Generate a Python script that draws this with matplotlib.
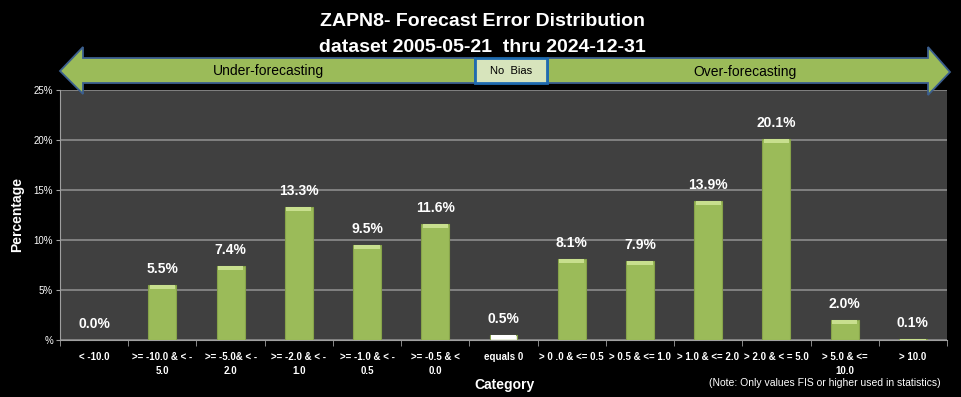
import matplotlib.pyplot as plt
from matplotlib.patches import Polygon, Rectangle
import numpy as np

plt.rcParams['font.family'] = ['Liberation Sans Narrow', 'Liberation Sans', 'DejaVu Sans']

categories = ['< -10.0', '>= -10.0 & < -\n5.0', '>= -5.0& < -\n2.0', '>= -2.0 & < -\n1.0',
              '>= -1.0 & < -\n0.5', '>= -0.5 & <\n0.0', 'equals 0', '> 0 .0 & <= 0.5',
              '> 0.5 & <= 1.0', '> 1.0 & <= 2.0', '> 2.0 & < = 5.0', '> 5.0 & <=\n10.0', '> 10.0']
values = [0.0, 5.5, 7.4, 13.3, 9.5, 11.6, 0.5, 8.1, 7.9, 13.9, 20.1, 2.0, 0.1]
bar_colors = ['#9bbb59'] * 6 + ['#eef2e4'] + ['#9bbb59'] * 6
top_colors = ['#c8df8e'] * 6 + ['#ffffff'] + ['#c8df8e'] * 6
ytick_vals = [0, 5, 10, 15, 20, 25]
ytick_labels = ['%', '5%', '10%', '15%', '20%', '25%']

W, H = 961, 397
fig = plt.figure(figsize=(9.61, 3.97), dpi=100, facecolor='black')
ax = fig.add_axes([60 / W, 57 / H, 887 / W, 250 / H])
ax.set_facecolor('#404040')

x = np.arange(len(values))
vals = np.array(values)
ax.bar(x, vals, width=0.41, color=bar_colors, edgecolor='#87a34a', linewidth=0.8, zorder=3)
# light bevel strip at the top of each bar
cap = np.minimum(vals, 0.35)
ax.bar(x, cap, bottom=vals - cap, width=0.37, color=top_colors, linewidth=0, zorder=3.5)
for xi, v in zip(x, values):
    ax.text(xi, v + 0.9, '%.1f%%' % v, ha='center', va='bottom', color='white',
            fontsize=10, fontweight='bold', zorder=4)

ax.set_xlim(-0.5, len(values) - 0.5)
ax.set_ylim(0, 25)
ax.set_yticks(ytick_vals)
ax.set_yticklabels(ytick_labels, color='white', fontsize=7)
ax.yaxis.grid(True, color='#8c8c8c', linewidth=1.2, zorder=0)
ax.set_xticks(x)
ax.set_xticklabels(categories, color='white', fontsize=7, fontweight='bold', linespacing=1.4)
ax.set_xticks(np.arange(len(values) + 1) - 0.5, minor=True)
ax.tick_params(axis='x', which='major', length=0, pad=9)
ax.tick_params(axis='x', which='minor', length=4, color='#a0a0a0')
ax.tick_params(axis='y', length=3, color='#a0a0a0', pad=2)
for s in ['top', 'right']:
    ax.spines[s].set_visible(False)
for s in ['left', 'bottom']:
    ax.spines[s].set_color('#a0a0a0')

ax.set_ylabel('Percentage', color='white', fontsize=10, fontweight='bold', labelpad=7)
fig.text(505 / W, 1 - 385 / H, 'Category', color='white', fontsize=10, fontweight='bold',
         ha='center', va='center')
fig.text(825 / W, 1 - 383 / H, '(Note: Only values FIS or higher used in statistics)',
         color='white', fontsize=7.5, ha='center', va='center')

fig.text(482 / W, 1 - 22 / H, 'ZAPN8- Forecast Error Distribution', color='white',
         fontsize=14, fontweight='bold', ha='center', va='center')
fig.text(482 / W, 1 - 47 / H, 'dataset 2005-05-21  thru 2024-12-31', color='white',
         fontsize=14, fontweight='bold', ha='center', va='center')


def fp(px, py):
    return (px / W, 1 - py / H)


left_arrow = [fp(60, 71), fp(83, 47), fp(83, 58), fp(475, 58), fp(475, 83),
              fp(83, 83), fp(83, 94)]
right_arrow = [fp(548, 58), fp(928, 58), fp(928, 47), fp(950, 72), fp(928, 95),
               fp(928, 83), fp(548, 83)]
for pts in (left_arrow, right_arrow):
    fig.patches.append(Polygon(pts, closed=True, transform=fig.transFigure,
                               facecolor='#9bbb59', edgecolor='#3b5f8f', linewidth=1.3))
fig.patches.append(Rectangle(fp(475, 83), 72 / W, 25 / H, transform=fig.transFigure,
                             facecolor='#d7e4bc', edgecolor='#1f6bb0', linewidth=2))
fig.text(268 / W, 1 - 71 / H, 'Under-forecasting', color='black', fontsize=10,
         ha='center', va='center')
fig.text(745 / W, 1 - 72 / H, 'Over-forecasting', color='black', fontsize=10,
         ha='center', va='center')
fig.text(511 / W, 1 - 71 / H, 'No  Bias', color='black', fontsize=8,
         ha='center', va='center')

fig.savefig('out.png', dpi=100, facecolor='black')
